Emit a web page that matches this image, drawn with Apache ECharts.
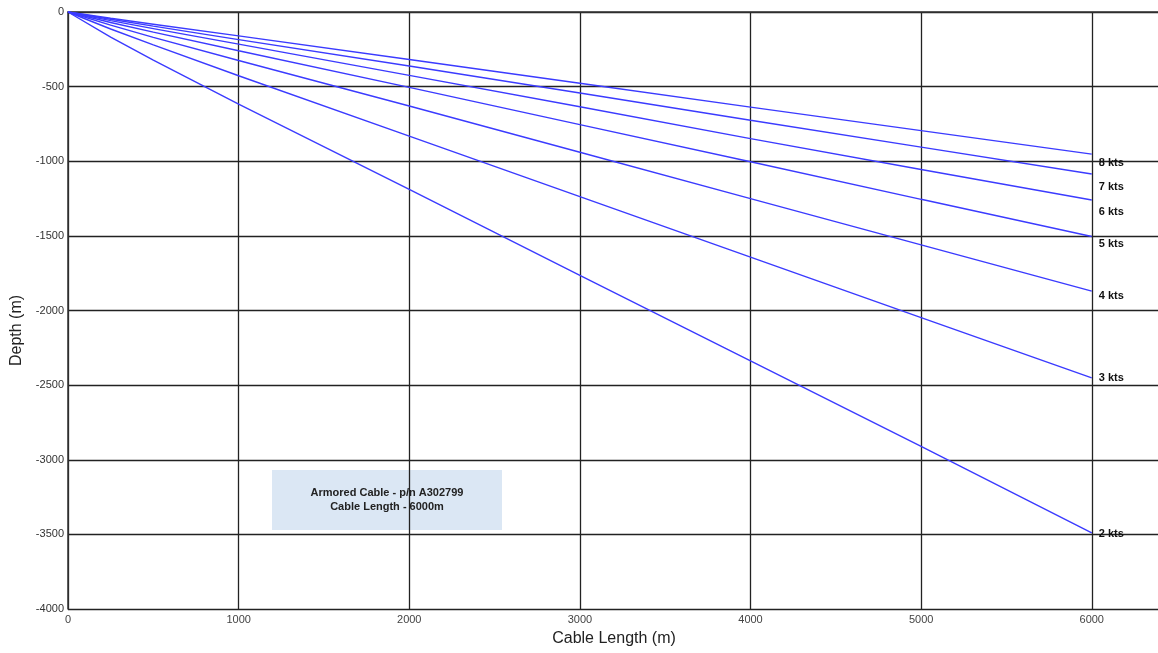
<!DOCTYPE html>
<html>
<head>
<meta charset="utf-8">
<script src="https://cdn.jsdelivr.net/npm/echarts@6/dist/echarts.min.js"></script>
<style>
html,body{margin:0;padding:0;background:#fff;}
#chart{width:1158px;height:653px;}
</style>
</head>
<body>
<div id="chart"></div>
<script>
// Cable length (m) sample points
const cableLength = [0, 250, 500, 1000, 2000, 3000, 4000, 5000, 6000];
// Depth (m) for each towing speed
const kts8 = [0, -42, -82, -160, -318, -477, -637, -795, -952];
const kts7 = [0, -49, -95, -185, -362, -543, -725, -905, -1085];
const kts6 = [0, -58, -111, -215, -425, -635, -848, -1055, -1260];
const kts5 = [0, -70, -135, -260, -505, -755, -1003, -1255, -1504];
const kts4 = [0, -88, -170, -325, -630, -940, -1250, -1560, -1870];
const kts3 = [0, -114, -220, -427, -832, -1237, -1642, -2048, -2452];
const kts2 = [0, -168, -322, -618, -1188, -1765, -2338, -2910, -3490];
const seriesNames = ['8 kts', '7 kts', '6 kts', '5 kts', '4 kts', '3 kts', '2 kts'];
const seriesData = [kts8, kts7, kts6, kts5, kts4, kts3, kts2];
const labelOffsets = [[3, 9], [3, 13], [3, 12], [3, 7], [3, 5], [3, 0], [3, 1]];
const annotationLines = ['Armored Cable - p/n A302799', 'Cable Length - 6000m'];

const chart = echarts.init(document.getElementById('chart'), null, {renderer: 'canvas'});
const font = '"Liberation Sans", Arial, sans-serif';

const series = seriesNames.map((name, i) => ({
  name: name,
  type: 'line',
  data: cableLength.map((x, j) => [x, seriesData[i][j]]),
  smooth: false,
  symbol: 'none',
  lineStyle: {color: '#3b3bff', width: 1.4},
  itemStyle: {color: '#3b3bff'},
  z: 3,
  endLabel: {
    show: true,
    formatter: name,
    color: '#111',
    fontWeight: 'bold',
    fontFamily: font,
    fontSize: 11,
    distance: 4,
    offset: labelOffsets[i]
  }
}));

chart.setOption({
  animation: false,
  backgroundColor: '#fff',
  grid: {left: 68, top: 12, right: -2, bottom: 44, containLabel: false, outerBoundsMode: 'none'},
  xAxis: {
    type: 'value',
    min: 0, max: 6400, interval: 1000,
    name: 'Cable Length (m)',
    nameLocation: 'middle',
    nameGap: 22,
    nameTextStyle: {fontFamily: font, fontSize: 16, color: '#222'},
    axisLine: {show: true, lineStyle: {color: '#333', width: 1.5}},
    axisTick: {show: false},
    axisLabel: {fontFamily: font, fontSize: 11, color: '#444', margin: 5, showMaxLabel: false,
                formatter: v => String(v)},
    splitLine: {show: true, lineStyle: {color: '#222', width: 1.3}}
  },
  yAxis: {
    type: 'value',
    min: -4000, max: 0, interval: 500,
    name: 'Depth (m)',
    nameLocation: 'middle',
    nameGap: 42,
    nameRotate: 90,
    nameTextStyle: {fontFamily: font, fontSize: 16, color: '#222', padding: [0, 0, 0, -40]},
    axisLine: {show: true, onZero: false, lineStyle: {color: '#333', width: 1.5}},
    axisTick: {show: false},
    axisLabel: {fontFamily: font, fontSize: 11, color: '#333', margin: 4, formatter: v => String(v)},
    splitLine: {show: true, lineStyle: {color: '#222', width: 1.3}}
  },
  graphic: [{
    type: 'group',
    left: 272, top: 470,
    children: [
      {type: 'rect', shape: {x: 0, y: 0, width: 230, height: 60},
       style: {fill: '#dbe7f4', stroke: null}},
      {type: 'text', x: 115, y: 30,
       style: {text: annotationLines.join('\n'), fill: '#222', font: 'bold 11px ' + font,
               align: 'center', verticalAlign: 'middle', lineHeight: 14}}
    ]
  }],
  series: series
});
</script>
</body>
</html>
